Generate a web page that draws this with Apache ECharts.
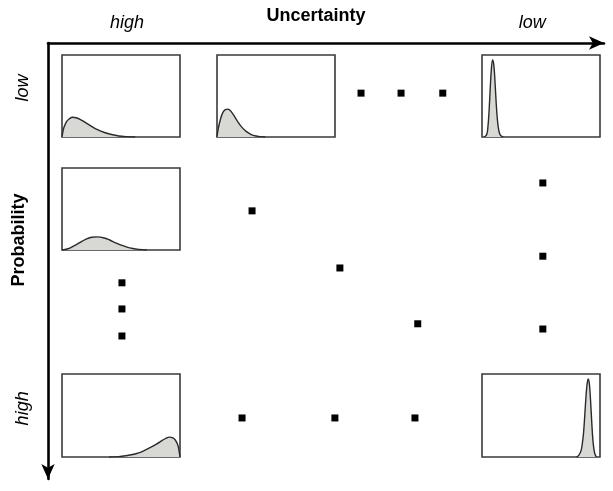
<!DOCTYPE html>
<html>
<head>
<meta charset="utf-8">
<script src="https://cdn.jsdelivr.net/npm/echarts@6/dist/echarts.min.js"></script>
<style>html,body{margin:0;padding:0;background:#fff}#c{width:613px;height:491px}</style>
</head>
<body>
<div id="c"></div>
<script>
// ---- data ----
var xAxisName = 'Uncertainty';
var yAxisName = 'Probability';
var xTickValues = [14.2, 87.1];
var xTickLabels = ['high', 'low'];
var yTickValues = [10.3, 83.8];
var yTickLabels = ['low', 'high'];

// ellipsis dots (position on the Uncertainty / Probability plane, 0-100)
var dotX = [56.3, 63.5, 71.0, 89.0, 89.0, 89.0, 36.7, 52.5, 66.5, 13.3, 13.3, 13.3, 34.9, 51.6, 66.0];
var dotY = [11.5, 11.5, 11.5, 32.1, 48.9, 65.6, 38.5, 51.6, 64.4, 55.0, 61.0, 67.2, 86.0, 86.0, 86.0];

// distribution curves in each small panel (x: 0-100, density: 0-100)
var curve1X = [0, 1, 2, 4, 6, 9, 12, 16, 20, 25, 30, 36, 42, 48, 55, 62];
var curve1Y = [0, 8, 13, 19, 22, 24, 23.5, 21, 17.5, 13, 9, 5.5, 3, 1.3, 0.4, 0];
var curve2X = [0, 1, 3, 5, 7, 9, 11, 14, 17, 21, 25, 29, 33, 37, 41];
var curve2Y = [0, 10, 22, 30, 33.5, 34, 32.5, 27, 20, 12, 6.5, 3, 1.2, 0.4, 0];
var curve3X = [2, 4, 5, 6, 7, 8, 9, 10, 11, 12, 13, 14, 15, 16, 18];
var curve3Y = [0, 3, 12, 32, 60, 84, 94, 88, 68, 42, 22, 10, 4, 1.5, 0];
var curve4X = [0, 5, 10, 15, 20, 25, 30, 35, 40, 45, 50, 55, 60, 65, 72];
var curve4Y = [0, 1.5, 5, 9, 13, 15.5, 16, 15, 12.5, 9, 6, 3.5, 1.8, 0.8, 0];
var curve5X = [80, 82, 84, 85, 86, 87, 88, 89, 90, 91, 92, 93, 94, 95, 96, 97];
var curve5Y = [0, 2, 8, 16, 28, 48, 70, 87, 94, 88, 68, 42, 20, 8, 2.5, 0];
var curve6X = [40, 48, 54, 60, 65, 70, 75, 80, 85, 88, 91, 94, 96, 98, 99, 100];
var curve6Y = [0, 0.5, 1.5, 3, 5, 8, 11.5, 15.5, 20, 22.5, 24, 23, 20.5, 15, 9, 0];

// panel placement (pixels)
var panels = [
  {left: 62, top: 55, width: 118, height: 82, cx: curve1X, cy: curve1Y},
  {left: 217, top: 55, width: 118, height: 82, cx: curve2X, cy: curve2Y},
  {left: 482, top: 55, width: 118, height: 82, cx: curve3X, cy: curve3Y},
  {left: 62, top: 168, width: 118, height: 82, cx: curve4X, cy: curve4Y},
  {left: 482, top: 374, width: 118, height: 83, cx: curve5X, cy: curve5Y},
  {left: 62, top: 374, width: 118, height: 83, cx: curve6X, cy: curve6Y}
];

function zip(a, b) { return a.map(function (v, i) { return [v, b[i]]; }); }

var chart = echarts.init(document.getElementById('c'), null, {renderer: 'canvas'});

var grids = [{left: 48, top: 43, right: 9, bottom: 12, show: false, containLabel: false, outerBoundsMode: 'none'}];
var xAxes = [{
  gridIndex: 0, type: 'value', position: 'top', min: 0, max: 100,
  name: xAxisName, nameLocation: 'middle', nameGap: 18, nameMoveOverlap: false,
  nameTextStyle: {fontFamily: 'Liberation Sans', fontWeight: 'bold', fontSize: 18, color: '#000', padding: [0, 20, 0, 0]},
  axisLine: {show: true, symbol: ['none', 'arrow'], symbolSize: [10, 15], lineStyle: {color: '#000', width: 2.6}},
  axisTick: {show: false}, splitLine: {show: false},
  axisLabel: {
    customValues: xTickValues, margin: 11,
    fontFamily: 'Liberation Sans', fontStyle: 'italic', fontSize: 18, color: '#000',
    formatter: function (v) { return xTickLabels[xTickValues.indexOf(v)]; }
  }
}];
var yAxes = [{
  gridIndex: 0, type: 'value', inverse: true, min: 0, max: 100,
  name: yAxisName, nameLocation: 'middle', nameGap: 20, nameMoveOverlap: false,
  nameTextStyle: {fontFamily: 'Liberation Sans', fontWeight: 'bold', fontSize: 18, color: '#000', padding: [0, 0, 0, 42]},
  axisLine: {show: true, symbol: ['arrow', 'none'], symbolSize: [10, 15], lineStyle: {color: '#000', width: 2.6}},
  axisTick: {show: false}, splitLine: {show: false},
  axisLabel: {
    customValues: yTickValues, margin: 16, rotate: 90,
    fontFamily: 'Liberation Sans', fontStyle: 'italic', fontSize: 18, color: '#000',
    formatter: function (v) { return yTickLabels[yTickValues.indexOf(v)]; }
  }
}];
var series = [{
  type: 'scatter', xAxisIndex: 0, yAxisIndex: 0,
  symbol: 'rect', symbolSize: 7, itemStyle: {color: '#000', opacity: 1},
  data: zip(dotX, dotY), silent: true
}];

panels.forEach(function (p, i) {
  var gi = i + 1;
  grids.push({left: p.left, top: p.top, width: p.width, height: p.height, show: true,
    borderColor: '#3a3a3a', borderWidth: 1.6, backgroundColor: 'transparent',
    containLabel: false, outerBoundsMode: 'none'});
  xAxes.push({gridIndex: gi, type: 'value', min: 0, max: 100, show: false});
  yAxes.push({gridIndex: gi, type: 'value', min: 0, max: 100, show: false});
  series.push({
    type: 'line', xAxisIndex: gi, yAxisIndex: gi, smooth: 0.4, symbol: 'none',
    lineStyle: {color: '#2a2a2a', width: 1.4},
    areaStyle: {color: '#d8d8d4', opacity: 1},
    data: zip(p.cx, p.cy), silent: true
  });
});

chart.setOption({
  animation: false,
  backgroundColor: '#fff',
  grid: grids, xAxis: xAxes, yAxis: yAxes, series: series
});
</script>
</body>
</html>
